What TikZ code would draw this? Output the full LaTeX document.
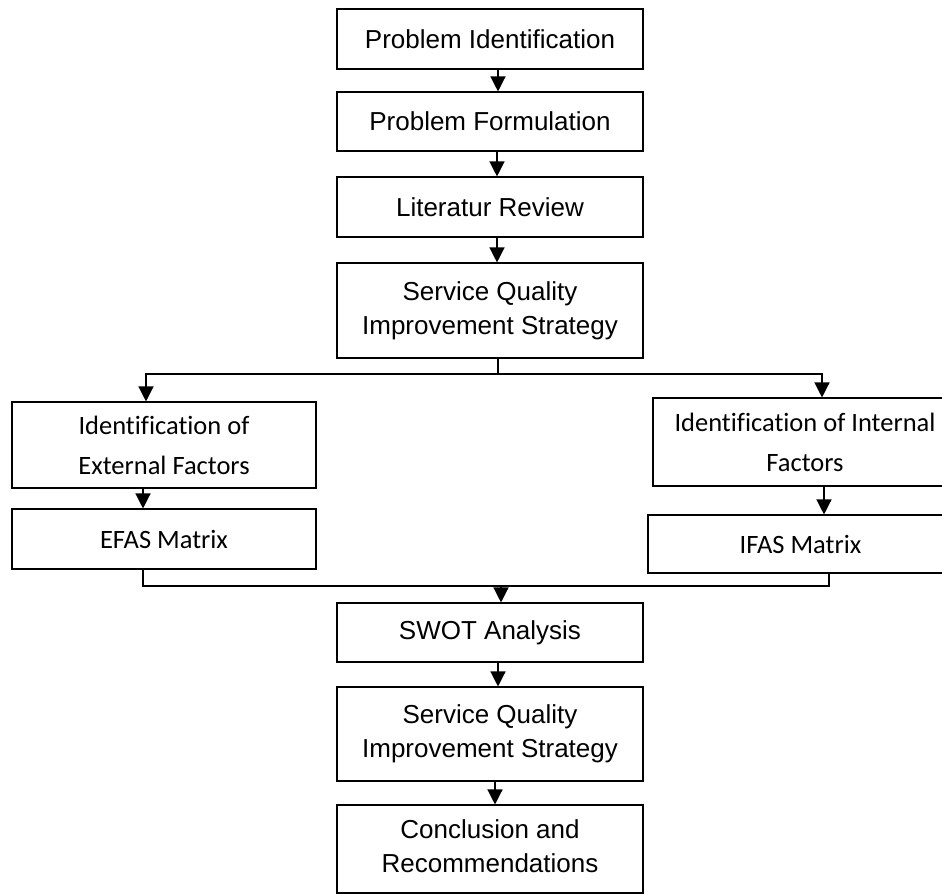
\documentclass[tikz,border=0pt]{standalone}
\usepackage{fontspec}
\setmainfont{Liberation Sans}
\newfontfamily\calfont[Ligatures=NoCommon]{Carlito}
\usetikzlibrary{arrows.meta}
\tikzset{
  mainbox/.style={draw, line width=1.1pt, minimum width=306pt, align=center, inner sep=0pt,
    font=\fontsize{26pt}{34pt}\selectfont},
  sidebox/.style={draw, line width=1.1pt, minimum width=304pt, align=center, inner sep=0pt,
    font=\calfont\fontsize{26.5pt}{40pt}\selectfont},
  arr/.style={line width=1.3pt, -{Triangle[length=15pt,width=15pt]}},
  ln/.style={line width=1.3pt}
}
\begin{document}
\begin{tikzpicture}[x=1pt,y=-1pt]
\path[use as bounding box] (0,0) rectangle (942,894);
\clip (0,0) rectangle (942,894);
% central column
\node[mainbox, minimum height=60pt] (b1) at (490,39) {Problem Identification};
\node[mainbox, minimum height=59pt] (b2) at (490,121.5) {Problem Formulation};
\node[mainbox, minimum height=60pt] (b3) at (490,207) {Literatur Review};
\node[mainbox, minimum height=95pt] (b4) at (490,310.5) {Service Quality\\Improvement Strategy};
% side columns
\node[sidebox, minimum height=86pt] (ext) at (164,445) {Identification of\\External Factors};
\node[sidebox, minimum height=60pt] (efas) at (164,539) {EFAS Matrix};
\node[sidebox, minimum height=88pt] (int) at (805,442) {Identification of Internal\\Factors};
\node[sidebox, minimum width=305pt, minimum height=58pt] (ifas) at (800.5,544) {IFAS Matrix};
% lower column
\node[mainbox, minimum height=59pt] (swot) at (490,632.5) {SWOT Analysis};
\node[mainbox, minimum height=94pt] (sq2) at (490,734) {Service Quality\\Improvement Strategy};
\node[mainbox, minimum height=88pt] (conc) at (490,849) {\raisebox{8pt}{\begin{tabular}{@{}c@{}}Conclusion and\\Recommendations\end{tabular}}};
% helper coordinates
\coordinate (xa) at (498,0);
\coordinate (xb) at (497,0);
\coordinate (xl) at (146,0);
\coordinate (xr) at (822,0);
\coordinate (xle) at (143,0);
\coordinate (xri) at (824,0);
\coordinate (xmr) at (829,0);
\coordinate (xm) at (501,0);
\coordinate (xc) at (495,0);
\coordinate (split) at (498,374);
\coordinate (merge) at (501,586);
% connectors
\draw[arr] (b1.south -| xa) -- (b2.north -| xa);
\draw[arr] (b2.south -| xb) -- (b3.north -| xb);
\draw[arr] (b3.south -| xb) -- (b4.north -| xb);
\draw[ln] (b4.south -| xa) -- (split);
\draw[arr] (split) -- (split -| xl) -- (ext.north -| xl);
\draw[arr] (split) -- (split -| xr) -- (int.north -| xr);
\draw[arr] (ext.south -| xle) -- (efas.north -| xle);
\draw[arr] (int.south -| xri) -- (ifas.north -| xri);
\draw[ln] (efas.south -| xle) -- (merge -| xle) -- (merge -| xmr) -- (ifas.south -| xmr);
\draw[arr] (merge) -- (swot.north -| xm);
\draw[arr] (swot.south -| xa) -- (sq2.north -| xa);
\draw[arr] (sq2.south -| xc) -- (conc.north -| xc);
\end{tikzpicture}
\end{document}
